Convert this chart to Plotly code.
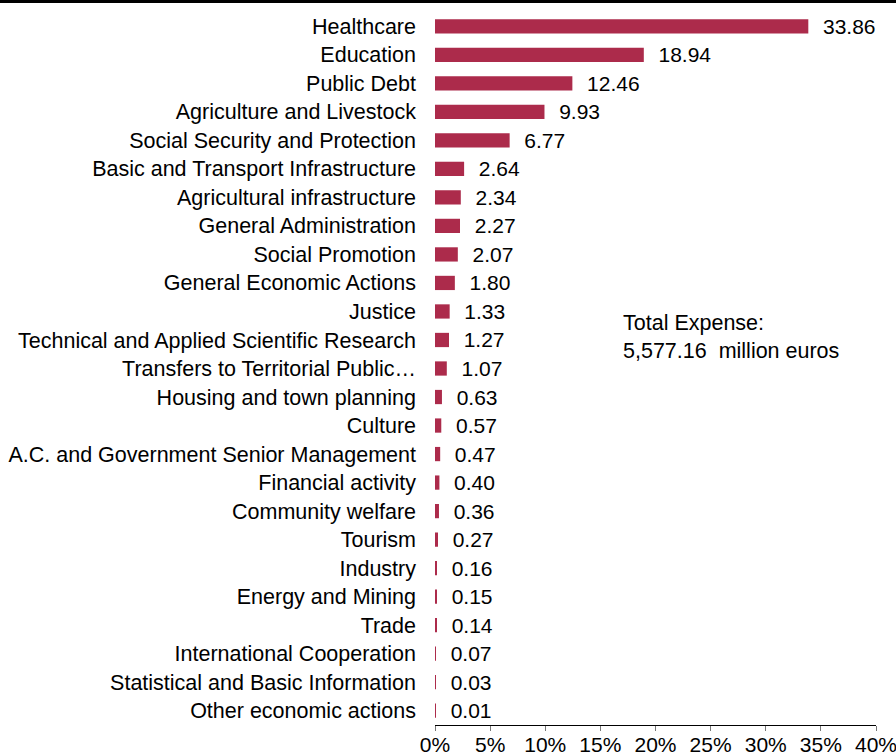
import plotly.graph_objects as go

categories = [
    "Healthcare", "Education", "Public Debt", "Agriculture and Livestock",
    "Social Security and Protection", "Basic and Transport Infrastructure",
    "Agricultural infrastructure", "General Administration", "Social Promotion",
    "General Economic Actions", "Justice", "Technical and Applied Scientific Research",
    "Transfers to Territorial Public\u2026", "Housing and town planning", "Culture",
    "A.C. and Government Senior Management", "Financial activity", "Community welfare",
    "Tourism", "Industry", "Energy and Mining", "Trade", "International Cooperation",
    "Statistical and Basic Information", "Other economic actions",
]
values = [33.86, 18.94, 12.46, 9.93, 6.77, 2.64, 2.34, 2.27, 2.07, 1.80, 1.33, 1.27,
          1.07, 0.63, 0.57, 0.47, 0.40, 0.36, 0.27, 0.16, 0.15, 0.14, 0.07, 0.03, 0.01]
tick_vals = [0, 5, 10, 15, 20, 25, 30, 35, 40]
tick_text = [f"{v}%" for v in tick_vals]

FONT = "Liberation Sans, Arial, sans-serif"
BAR = "#AC2B4B"

fig = go.Figure(go.Bar(
    y=categories, x=values, orientation="h",
    marker=dict(color=BAR, line=dict(width=0)),
    text=[f"\u00a0\u00a0{v:.2f}" for v in values],
    textposition="outside", cliponaxis=False, constraintext="none",
    textfont=dict(family=FONT, size=21, color="#000"),
    hoverinfo="skip",
))

L, R, T, B = 435, 20, 12, 31
W, H = 896, 756
pw, ph = W - L - R, H - T - B

fig.update_layout(
    width=W, height=H,
    margin=dict(l=L, r=R, t=T, b=B, autoexpand=False),
    paper_bgcolor="white", plot_bgcolor="white",
    bargap=0.5, showlegend=False,
    font=dict(family=FONT, size=21, color="#000"),
    xaxis=dict(range=[0, 40], tickvals=tick_vals, ticktext=tick_text,
               showgrid=False, zeroline=False, showline=True, linecolor="#000",
               linewidth=1, ticks="outside", ticklen=5, tickcolor="#777",
               ticklabelstandoff=-4, ticklabeloverflow="allow",
               tickfont=dict(family=FONT, size=21, color="#000")),
    yaxis=dict(autorange="reversed", showgrid=False, zeroline=False, showline=False,
               ticks="", ticklabelstandoff=18,
               tickfont=dict(family=FONT, size=21.5, color="#000")),
    shapes=[dict(type="line", xref="paper", yref="paper",
                 x0=-L / pw, x1=1 + R / pw, y0=1 + (T - 1.5) / ph, y1=1 + (T - 1.5) / ph,
                 line=dict(color="#000", width=3))],
    annotations=[dict(text="Total Expense:<br>5,577.16  million euros",
                      x=16.85, xref="x", y=(H - B - 337) / ph, yref="paper",
                      xanchor="left", yanchor="middle", align="left", showarrow=False,
                      font=dict(family=FONT, size=21.5, color="#000"))],
)

fig.write_html("out.html", config={"displayModeBar": False},
               post_script="document.body.style.margin='0';document.body.style.overflow='hidden';")
